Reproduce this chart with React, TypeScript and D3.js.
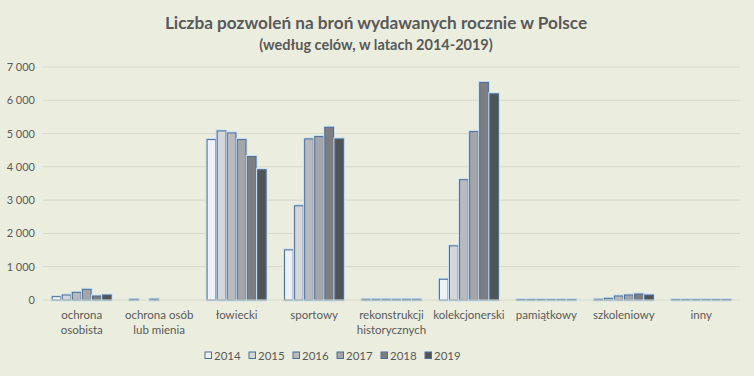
import React from "react";
import * as d3 from "d3";

const categories = [
  ["ochrona", "osobista"],
  ["ochrona osób", "lub mienia"],
  ["łowiecki"],
  ["sportowy"],
  ["rekonstrukcji", "historycznych"],
  ["kolekcjonerski"],
  ["pamiątkowy"],
  ["szkoleniowy"],
  ["inny"],
];
const years = ["2014", "2015", "2016", "2017", "2018", "2019"];
const v2014 = [100, 20, 4820, 1505, 20, 623, 15, 20, 15];
const v2015 = [150, 0, 5080, 2830, 20, 1626, 15, 50, 15];
const v2016 = [230, 25, 5020, 4840, 20, 3614, 15, 120, 15];
const v2017 = [320, 0, 4820, 4910, 20, 5060, 15, 150, 15];
const v2018 = [120, 0, 4310, 5190, 20, 6536, 15, 180, 15];
const v2019 = [150, 0, 3915, 4840, 20, 6195, 15, 150, 15];
const series = [v2014, v2015, v2016, v2017, v2018, v2019];
const yTicks = [0, 1000, 2000, 3000, 4000, 5000, 6000, 7000];
const colors = ["#eef1f5", "#d5d6d9", "#b9babd", "#a4a5a8", "#7c7e82", "#515457"];

const W = 754;
const H = 376;
const left = 43;
const right = 740;
const top = 67;
const bottom = 300;
const font = "Lato, 'Open Sans', sans-serif";
const txt = "#595959";

export default function App() {
  const x0 = d3
    .scaleBand<number>()
    .domain(categories.map((_, i) => i))
    .range([left, right])
    .paddingInner(0.225)
    .paddingOuter(0.1125);
  const x1 = d3
    .scaleBand<number>()
    .domain(years.map((_, i) => i))
    .range([0, x0.bandwidth()])
    .paddingInner(0.14)
    .paddingOuter(0.05);
  const y = d3.scaleLinear().domain([0, 7000]).range([bottom, top]);
  const fmt = (v: number) => d3.format(",")(v).replace(",", " ");

  return (
    <svg width={W} height={H} style={{ position: "absolute", left: 0, top: 0 }}>
      <rect x={0} y={0} width={W} height={H} fill="#ebeedf" />
      <text x={376} y={29} textAnchor="middle" fontFamily={font} fontWeight="bold" fontSize={17.2} fill={txt}>
        Liczba pozwoleń na broń wydawanych rocznie w Polsce
      </text>
      <text x={376} y={50} textAnchor="middle" fontFamily={font} fontWeight="bold" fontSize={14.5} fill={txt}>
        (według celów, w latach 2014-2019)
      </text>
      {yTicks.map((t) => (
        <g key={t}>
          {t > 0 && (
            <line x1={left} x2={right} y1={y(t)} y2={y(t)} stroke="#d6d9c8" strokeWidth={1} />
          )}
          <text x={35} y={y(t) + 4} textAnchor="end" fontFamily={font} fontSize={11} fill={txt}>
            {fmt(t)}
          </text>
        </g>
      ))}
      {categories.map((c, ci) =>
        series.map((s, si) => {
          if (s[ci] <= 0) return null;
          const bx = (x0(ci) as number) + (x1(si) as number);
          const bw = x1.bandwidth();
          const by = y(s[ci]);
          const bh = bottom - by;
          return (
            <g key={`${ci}-${si}`}>
              <rect x={bx} y={by} width={bw} height={bh} fill="none" stroke="#c9dff1" strokeWidth={3} />
              <rect x={bx} y={by} width={bw} height={bh} fill={colors[si]} stroke="#4d6e96" strokeWidth={1} />
            </g>
          );
        })
      )}
      <line x1={left} x2={right} y1={bottom} y2={bottom} stroke="#d6d9c8" strokeWidth={1} />
      {categories.map((c, ci) => {
        const cx = (x0(ci) as number) + x0.bandwidth() / 2;
        return (
          <text key={ci} x={cx} y={319} textAnchor="middle" fontFamily={font} fontSize={11.5} fill={txt}>
            {c.map((line, li) => (
              <tspan key={li} x={cx} dy={li === 0 ? 0 : 15}>
                {line}
              </tspan>
            ))}
          </text>
        );
      })}
      {years.map((yr, i) => {
        const lx = 205 + i * 44;
        return (
          <g key={yr}>
            <rect x={lx} y={352} width={6.5} height={6.5} fill={colors[i]} stroke="#4d6e96" strokeWidth={1} />
            <text x={lx + 9} y={359.5} fontFamily={font} fontSize={11.5} fill={txt}>
              {yr}
            </text>
          </g>
        );
      })}
    </svg>
  );
}
